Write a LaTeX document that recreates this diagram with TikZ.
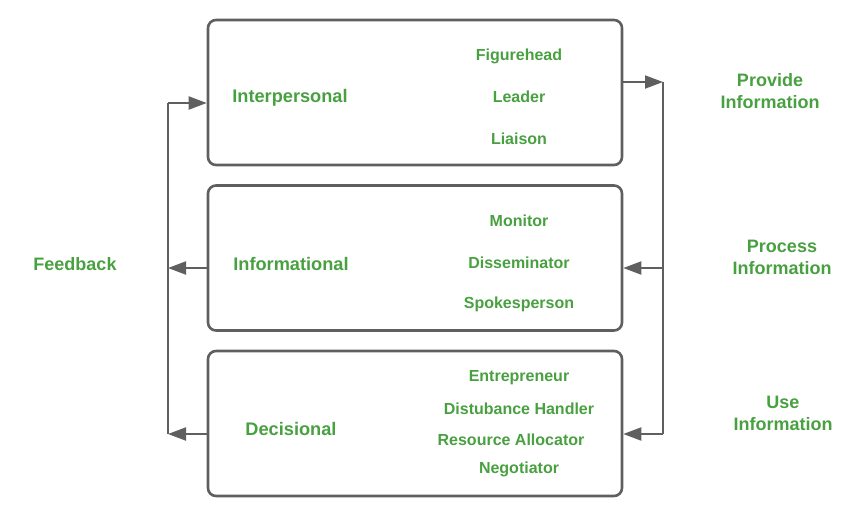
\documentclass[tikz,border=0pt]{standalone}
\usepackage{fontspec}
\setmainfont{Liberation Sans}
\usetikzlibrary{arrows.meta}
\definecolor{grn}{RGB}{72,160,64}
\definecolor{gry}{RGB}{95,95,95}
\begin{document}
\begin{tikzpicture}[x=1pt,y=-1pt,
  box/.style={draw=gry,line width=2.6pt,rounded corners=8pt,minimum width=414pt,minimum height=145pt,inner sep=0pt},
  head/.style={text=grn,font=\fontsize{18.2}{21}\selectfont\bfseries,inner sep=0pt},
  item/.style={text=grn,font=\fontsize{16}{19}\selectfont\bfseries,inner sep=0pt},
  side/.style={text=grn,font=\fontsize{18}{22}\selectfont\bfseries,inner sep=0pt,align=center},
  conn/.style={draw=gry,line width=2pt},
  arr/.style={conn,-{Triangle[length=18pt,width=13pt]}}]
\useasboundingbox (0,0) rectangle (852,523);
\node[box] (b1) at (415,92.5) {};
\node[box] (b2) at (415,258) {};
\node[box] (b3) at (415,423.5) {};
\node[head] (h1) at (290,98) {Interpersonal};
\node[head] (h2) at (291,264) {Informational};
\node[head] (h3) at (291,429) {Decisional};
\node[item] (i1) at (519,56) {Figurehead};
\node[item] (i2) at (519,97) {Leader};
\node[item] (i3) at (519,139) {Liaison};
\node[item] (i4) at (519,221) {Monitor};
\node[item] (i5) at (519,263) {Disseminator};
\node[item] (i6) at (519,304) {Spokesperson};
\node[item] (i7) at (519,378) {Entrepreneur};
\node[item] (i8) at (519,409) {Distubance Handler};
\node[item] (i9) at (511,440) {Resource Allocator};
\node[item] (i10) at (519,469) {Negotiator};
\node[side] (fb) at (75,264) {Feedback};
\node[side] (s1) at (770,91) {Provide\\Information};
\node[side] (s2) at (782,257) {Process\\Information};
\node[side] (s3) at (783,413) {Use\\Information};
\coordinate (lt) at (168,103);
\coordinate (lm) at (168,268);
\coordinate (lb) at (168,434);
\coordinate (rt) at (663,82);
\coordinate (rm) at (663,268);
\coordinate (rb) at (663,434);
\draw[conn] (lb) -- (lt);
\draw[arr] (lt) -- (b1.west |- lt);
\draw[arr] (b2.west |- lm) -- (lm);
\draw[arr] (b3.west |- lb) -- (lb);
\draw[arr] (b1.east |- rt) -- (rt);
\draw[conn] (rt) -- (rb);
\draw[arr] (rm) -- (b2.east |- rm);
\draw[arr] (rb) -- (b3.east |- rb);
\end{tikzpicture}
\end{document}
